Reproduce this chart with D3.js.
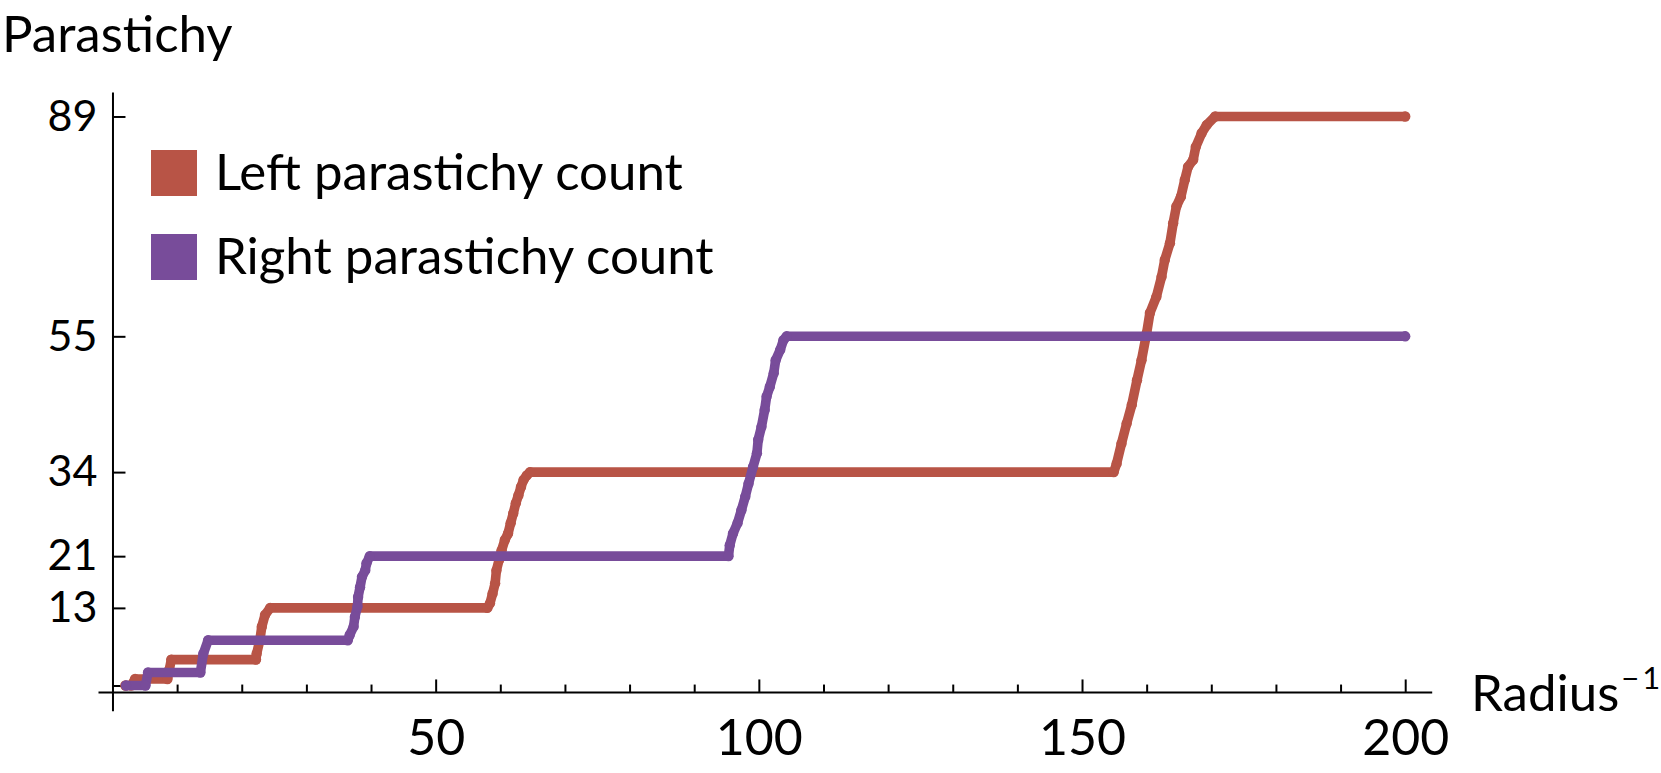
<!DOCTYPE html>
<html>
<head>
<meta charset="utf-8">
<script src="https://cdn.jsdelivr.net/npm/d3@7"></script>
<style>
  html, body { margin: 0; padding: 0; background: #ffffff; }
  svg { display: block; }
  text { font-family: Lato, "Open Sans", sans-serif; fill: #000; }
</style>
</head>
<body>
<svg id="chart" width="1661" height="773"></svg>
<script>
// ---- data ----
const seriesNames = ["Left parastichy count", "Right parastichy count"];

const leftX = [2.0, 2.9, 3.5, 8.5, 8.8, 9.1, 22.2, 22.3, 22.8, 23.1, 23.6, 24.4, 58.0, 58.4, 58.8, 59.2, 59.4, 59.8, 60.2, 60.7, 61.2, 61.6, 62.0, 62.4, 62.8, 63.2, 63.6, 64.1, 64.6, 154.9, 155.35, 156.1, 156.9, 157.7, 158.5, 159.2, 160.0, 160.5, 161.5, 162.3, 162.8, 163.6, 164.1, 164.6, 165.3, 165.9, 166.4, 167.2, 167.6, 168.5, 169.3, 170.6, 200];
const leftY = [1, 1, 2, 2, 3.5, 5, 5, 5.9, 8.0, 10.1, 11.9, 13, 13, 13.7, 15.2, 16.8, 18.8, 20.4, 21.9, 23.5, 24.5, 26.1, 27.6, 29.2, 30.4, 31.7, 32.8, 33.5, 34, 34, 35.3, 38.4, 41.5, 44.4, 48.2, 51.3, 55.5, 58.6, 61.1, 64.2, 66.8, 69.4, 72.5, 75.1, 76.6, 79.2, 81.2, 82.3, 84.3, 86.4, 87.7, 89, 89];

const rightX = [2.1, 5.1, 5.5, 13.6, 14.05, 14.8, 36.4, 36.7, 37.3, 37.5, 37.9, 38.0, 38.3, 38.6, 39.1, 39.3, 39.8, 95.3, 95.5, 96.0, 96.7, 97.3, 97.9, 98.4, 99.1, 99.7, 99.9, 100.4, 100.9, 101.2, 101.7, 102.3, 102.6, 103.3, 103.8, 104.3, 200];
const rightY = [1, 1, 3, 3, 5.9, 8, 8, 8.8, 10.1, 11.6, 13.2, 14.7, 16.2, 17.8, 18.8, 19.9, 21, 21, 22.7, 24.5, 26.1, 28.1, 30.2, 32.2, 34.8, 36.9, 39.0, 41.0, 43.6, 45.7, 47.2, 49.3, 51.3, 52.9, 54.4, 55, 55];

const xMajorTicks = [50, 100, 150, 200];
const xMinorTicks = [10, 20, 30, 40, 60, 70, 80, 90, 110, 120, 130, 140, 160, 170, 180, 190];
const yTickValues = [1, 13, 21, 34, 55, 89];
const yTickLabels = ["", "13", "21", "34", "55", "89"];

const colors = ["#B85446", "#784C9A"];

// ---- layout ----
const svg = d3.select("#chart");
const x = d3.scaleLinear().domain([-2.24, 204.1]).range([98, 1431.7]);
const y = d3.scaleLinear().domain([-2.9, 92.8]).range([710.7, 91.9]);

const FS = 51;        // words
const FS_XTICK = 50;  // x tick numbers
const FS_YTICK = 43;  // y tick numbers (13 and 21 sit close together)

// x axis (minor ticks)
const gxMinor = svg.append("g").attr("transform", `translate(0,${y(0)})`)
  .call(d3.axisBottom(x).tickValues(xMinorTicks).tickSizeInner(-7.4).tickSizeOuter(0).tickFormat(""));
// x axis (major ticks with labels)
const gxMajor = svg.append("g").attr("transform", `translate(0,${y(0)})`)
  .call(d3.axisBottom(x).tickValues(xMajorTicks).tickSizeInner(-12.5).tickSizeOuter(0).tickPadding(28));
gxMinor.select(".domain").remove();

// y axis
const gy = svg.append("g").attr("transform", `translate(${x(0)},0)`)
  .call(d3.axisLeft(y).tickValues(yTickValues).tickSizeInner(-13).tickSizeOuter(0).tickPadding(15)
    .tickFormat((d, i) => yTickLabels[i]));

[gxMinor, gxMajor, gy].forEach(g => {
  g.selectAll("path, line").attr("stroke", "#000").attr("stroke-width", 2);
  g.selectAll("text").style("font-family", "Lato, 'Open Sans', sans-serif").attr("fill", "#000");
});
gxMajor.selectAll("text").style("font-size", FS_XTICK + "px");
gy.selectAll("text").style("font-size", FS_YTICK + "px");

// axis labels
svg.append("text").attr("x", 2).attr("y", 52).style("font-size", FS + "px").text("Parastichy");
const xl = svg.append("text").attr("x", 1471).attr("y", 711).style("font-size", FS + "px");
xl.append("tspan").text("Radius");
xl.append("tspan").attr("dy", -22).attr("dx", 2).style("font-size", "31px").text("\u2212");
xl.append("tspan").attr("dx", 3).style("font-size", "31px").text("1");

// series
const series = [
  { name: seriesNames[0], pts: leftX.map((v, i) => [v, leftY[i]]), color: colors[0] },
  { name: seriesNames[1], pts: rightX.map((v, i) => [v, rightY[i]]), color: colors[1] }
];
const line = d3.line().x(d => x(d[0])).y(d => y(d[1]));
series.forEach(s => {
  const g = svg.append("g");
  g.append("path").attr("d", line(s.pts)).attr("fill", "none")
    .attr("stroke", s.color).attr("stroke-width", 9.6)
    .attr("stroke-linecap", "round").attr("stroke-linejoin", "round");
  g.selectAll("circle").data(s.pts).join("circle")
    .attr("cx", d => x(d[0])).attr("cy", d => y(d[1])).attr("r", 5.2)
    .attr("fill", s.color);
});

// legend
const legend = svg.append("g");
series.forEach((s, i) => {
  const top = 150 + i * 84;
  legend.append("rect").attr("x", 151).attr("y", top).attr("width", 46).attr("height", 46)
    .attr("fill", s.color);
  legend.append("text").attr("x", 215).attr("y", top + 40).style("font-size", FS + "px").text(s.name);
});
</script>
</body>
</html>
